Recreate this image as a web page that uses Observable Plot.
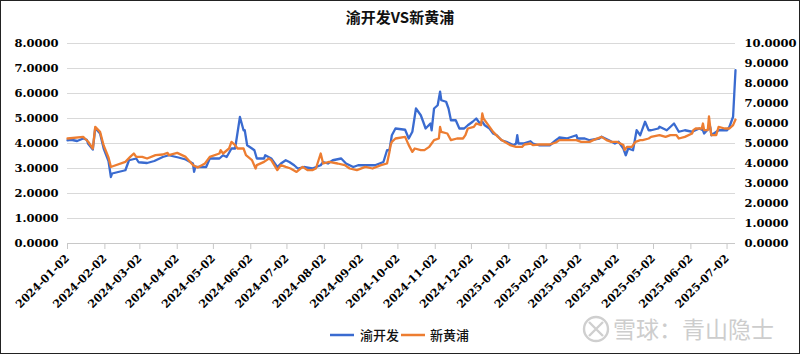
<!DOCTYPE html>
<html><head><meta charset="utf-8">
<script src="https://cdn.jsdelivr.net/npm/d3@7"></script>
<script src="https://cdn.jsdelivr.net/npm/@observablehq/plot@0.6"></script>
<style>
html,body{margin:0;padding:0;background:#fff;}
#wrap{position:relative;width:800px;height:354px;overflow:hidden;background:#fff;}
#frame{position:absolute;left:0;top:0;width:800px;height:354px;box-sizing:border-box;border:1px solid #222;pointer-events:none;}
#title{position:absolute;top:7px;left:0;width:800px;text-align:center;font:bold 15px "Noto Sans CJK SC";color:#111;line-height:20px;}
#chart{position:absolute;left:0;top:35px;}
#legend{position:absolute;left:0;top:325px;width:800px;height:20px;}
#wm{position:absolute;left:0;top:310px;width:800px;height:40px;}
</style>
</head><body>
<div id="wrap">
  <div id="title">渝开发VS新黄浦</div>
  <div id="chart"></div>
  <svg id="legend" width="800" height="20">
    <line x1="330" x2="354" y1="10" y2="10" stroke="#3A6BD0" stroke-width="2.5"/>
    <text x="360" y="15" font-family="Noto Sans CJK SC" font-size="13" font-weight="500" fill="#111">渝开发</text>
    <line x1="401" x2="425" y1="10" y2="10" stroke="#ED7D31" stroke-width="2.5"/>
    <text x="430" y="15" font-family="Noto Sans CJK SC" font-size="13" font-weight="500" fill="#111">新黄浦</text>
  </svg>
  <svg id="wm" width="800" height="40">
    <circle cx="596" cy="19" r="12" fill="none" stroke="#cfcfcf" stroke-width="2.4"/>
    <path d="M589,12 Q596,19 603,26 M603,12 Q598,17 596,19 M589,26 Q593,22 596,19" fill="none" stroke="#cfcfcf" stroke-width="2.4"/>
    <text x="613" y="28" font-family="Noto Sans CJK SC" font-size="23" fill="#cdcdcd">雪球：青山隐士</text>
  </svg>
  <div id="frame"></div>
</div>
<script>
// 渝开发 (left axis)
const blueDates = ["2024-01-02","2024-01-05","2024-01-10","2024-01-15","2024-01-18","2024-01-19","2024-01-23","2024-01-25","2024-01-29","2024-02-01","2024-02-05","2024-02-07","2024-02-08","2024-02-19","2024-02-22","2024-02-28","2024-03-01","2024-03-08","2024-03-14","2024-03-21","2024-03-26","2024-04-03","2024-04-09","2024-04-15","2024-04-16","2024-04-17","2024-04-26","2024-04-29","2024-05-07","2024-05-10","2024-05-13","2024-05-17","2024-05-20","2024-05-24","2024-05-27","2024-05-28","2024-05-30","2024-06-03","2024-06-05","2024-06-07","2024-06-13","2024-06-14","2024-06-19","2024-06-24","2024-06-27","2024-07-01","2024-07-04","2024-07-08","2024-07-11","2024-07-16","2024-07-23","2024-07-30","2024-08-01","2024-08-05","2024-08-09","2024-08-16","2024-08-20","2024-08-26","2024-08-30","2024-09-09","2024-09-13","2024-09-20","2024-09-23","2024-09-25","2024-09-27","2024-09-30","2024-10-08","2024-10-11","2024-10-14","2024-10-17","2024-10-21","2024-10-23","2024-10-25","2024-10-29","2024-10-30","2024-11-01","2024-11-04","2024-11-05","2024-11-06","2024-11-07","2024-11-11","2024-11-13","2024-11-15","2024-11-19","2024-11-22","2024-11-26","2024-11-29","2024-12-03","2024-12-06","2024-12-09","2024-12-11","2024-12-13","2024-12-17","2024-12-20","2024-12-23","2024-12-27","2024-12-31","2025-01-06","2025-01-08","2025-01-09","2025-01-10","2025-01-14","2025-01-20","2025-01-22","2025-01-27","2025-02-05","2025-02-10","2025-02-12","2025-02-13","2025-02-19","2025-02-27","2025-02-28","2025-03-06","2025-03-10","2025-03-18","2025-03-20","2025-03-26","2025-03-31","2025-04-03","2025-04-07","2025-04-09","2025-04-11","2025-04-15","2025-04-18","2025-04-21","2025-04-22","2025-04-25","2025-04-28","2025-04-30","2025-05-06","2025-05-07","2025-05-13","2025-05-19","2025-05-23","2025-05-28","2025-06-03","2025-06-09","2025-06-12","2025-06-13","2025-06-18","2025-06-19","2025-06-25","2025-07-02","2025-07-04","2025-07-07","2025-07-08","2025-07-09"];
const blueValues = [4.13,4.15,4.10,4.20,4.15,4.00,3.76,4.62,4.40,3.80,3.30,2.66,2.80,2.93,3.33,3.40,3.25,3.22,3.30,3.46,3.53,3.44,3.36,3.20,2.87,3.06,3.06,3.40,3.40,3.53,3.46,3.80,3.80,5.06,4.53,4.53,3.93,3.80,3.73,3.40,3.40,3.53,3.40,3.06,3.20,3.33,3.26,3.13,3.00,3.06,3.00,3.13,3.26,3.20,3.33,3.40,3.20,3.06,3.13,3.13,3.13,3.26,3.73,3.73,4.33,4.60,4.55,4.20,4.47,5.40,5.13,4.87,4.60,4.80,4.53,5.40,5.53,5.80,6.07,5.73,5.67,5.40,4.93,4.93,4.60,4.60,4.73,4.87,5.00,4.80,4.87,4.73,4.60,4.40,4.33,4.13,4.07,3.93,4.00,4.33,4.00,4.00,4.09,4.00,3.93,3.93,4.13,4.20,4.24,4.20,4.33,4.20,4.20,4.13,4.20,4.27,4.13,4.00,4.07,3.80,3.53,3.80,3.73,4.53,4.33,4.47,4.87,4.53,4.53,4.60,4.67,4.53,4.80,4.47,4.53,4.47,4.60,4.53,4.40,4.67,4.33,4.53,4.53,4.67,5.07,6.00,6.93];
// 新黄浦 (right axis)
const orangeDates = ["2024-01-02","2024-01-15","2024-01-19","2024-01-23","2024-01-25","2024-01-29","2024-02-01","2024-02-05","2024-02-07","2024-02-08","2024-02-19","2024-02-23","2024-02-26","2024-02-28","2024-03-04","2024-03-08","2024-03-15","2024-03-21","2024-03-25","2024-03-26","2024-04-02","2024-04-09","2024-04-15","2024-04-19","2024-04-25","2024-04-29","2024-05-07","2024-05-08","2024-05-10","2024-05-15","2024-05-17","2024-05-20","2024-05-22","2024-05-27","2024-05-29","2024-06-03","2024-06-06","2024-06-07","2024-06-13","2024-06-17","2024-06-19","2024-06-24","2024-06-27","2024-07-01","2024-07-05","2024-07-10","2024-07-15","2024-07-19","2024-07-23","2024-07-26","2024-07-30","2024-08-01","2024-08-06","2024-08-13","2024-08-19","2024-08-23","2024-08-29","2024-09-05","2024-09-11","2024-09-18","2024-09-23","2024-09-25","2024-09-26","2024-09-27","2024-09-30","2024-10-08","2024-10-11","2024-10-14","2024-10-16","2024-10-21","2024-10-24","2024-10-28","2024-10-30","2024-11-01","2024-11-05","2024-11-06","2024-11-07","2024-11-12","2024-11-15","2024-11-20","2024-11-25","2024-11-27","2024-11-29","2024-12-04","2024-12-06","2024-12-10","2024-12-11","2024-12-12","2024-12-16","2024-12-20","2024-12-24","2024-12-27","2025-01-03","2025-01-08","2025-01-13","2025-01-15","2025-01-20","2025-01-22","2025-01-27","2025-02-05","2025-02-10","2025-02-13","2025-02-21","2025-02-27","2025-03-03","2025-03-10","2025-03-13","2025-03-20","2025-03-24","2025-03-28","2025-04-02","2025-04-07","2025-04-08","2025-04-10","2025-04-14","2025-04-17","2025-04-21","2025-04-23","2025-04-28","2025-04-30","2025-05-07","2025-05-12","2025-05-16","2025-05-21","2025-05-23","2025-05-28","2025-06-03","2025-06-04","2025-06-06","2025-06-11","2025-06-12","2025-06-13","2025-06-16","2025-06-17","2025-06-18","2025-06-19","2025-06-23","2025-06-25","2025-06-30","2025-07-04","2025-07-07","2025-07-09"];
const orangeValues = [5.25,5.33,5.10,4.75,5.83,5.58,4.90,4.30,3.83,3.85,4.08,4.33,4.50,4.33,4.33,4.25,4.42,4.45,4.53,4.42,4.53,4.33,3.92,3.80,4.00,4.33,4.50,4.67,4.50,4.75,5.08,4.92,4.75,4.75,4.42,4.17,3.75,3.92,4.08,4.25,4.17,3.67,3.92,3.83,3.75,3.58,3.83,3.67,3.67,3.75,4.50,4.00,4.08,4.00,3.92,3.75,3.67,3.83,3.75,3.92,4.00,4.58,4.92,5.08,5.25,5.33,4.92,4.58,4.75,4.67,4.67,4.83,5.00,5.17,5.25,5.83,5.58,5.50,5.17,5.25,5.25,5.42,5.75,5.83,6.00,5.92,6.50,6.25,5.92,5.58,5.33,5.17,4.92,4.83,4.83,4.95,5.00,4.92,4.95,4.95,5.05,5.17,5.17,5.17,5.08,5.08,5.17,5.33,5.17,5.08,5.08,4.92,4.67,4.83,4.83,5.08,5.17,5.17,5.25,5.33,5.42,5.33,5.42,5.42,5.25,5.33,5.50,5.67,5.75,5.75,6.00,5.67,5.67,6.35,5.83,5.42,5.42,5.83,5.75,5.75,5.92,6.20];

const leftTicks = [0,1,2,3,4,5,6,7,8];
const rightTicks = [0,1,2,3,4,5,6,7,8,9,10];
const monthTicks = ["2024-01-02","2024-02-02","2024-03-02","2024-04-02","2024-05-02","2024-06-02","2024-07-02","2024-08-02","2024-09-02","2024-10-02","2024-11-02","2024-12-02","2025-01-02","2025-02-02","2025-03-02","2025-04-02","2025-05-02","2025-06-02","2025-07-02"];
const xStart = "2024-01-02", xEnd = "2025-07-09";

const ratio = leftTicks[leftTicks.length-1] / rightTicks[rightTicks.length-1]; // right -> left scale
const blue = blueDates.map((d,i)=>({date:new Date(d), v:blueValues[i]}));
const orange = orangeDates.map((d,i)=>({date:new Date(d), v:orangeValues[i]*ratio}));
const fmt4 = d=>d.toFixed(4);

const chart = Plot.plot({
  width: 800, height: 285,
  marginLeft: 67, marginRight: 65, marginTop: 8, marginBottom: 77,
  style: {fontFamily: "DejaVu Serif", fontWeight: "bold", fontSize: "11px", color: "#000", background: "transparent", overflow: "visible"},
  x: {type: "utc", domain: [new Date(xStart), new Date(xEnd)]},
  y: {domain: [0, 8]},
  marks: [
    Plot.gridY(leftTicks.filter(d=>d>0), {stroke: "#d9d9d9", strokeOpacity: 1, strokeWidth: 1}),
    Plot.ruleY([0], {stroke: "#c8c8c8", strokeWidth: 1}),
    Plot.axisY(leftTicks, {anchor: "left", tickSize: 0, tickPadding: 9, tickFormat: fmt4, fontSize: 11.5, label: null}),
    Plot.axisY(rightTicks.map(d=>d*ratio), {anchor: "right", tickSize: 0, tickPadding: 9, tickFormat: d=>fmt4(d/ratio), fontSize: 11.5, label: null}),
    Plot.axisX(monthTicks.map(d=>new Date(d)), {anchor: "bottom", tickRotate: -45, tickSize: 6, tickPadding: 7, stroke: "#c8c8c8", fill: "#000", fontSize: 11, tickFormat: d3.utcFormat("%Y-%m-%d"), label: null}),
    Plot.line(blue, {x: "date", y: "v", stroke: "#3A6BD0", strokeWidth: 2.3}),
    Plot.line(orange, {x: "date", y: "v", stroke: "#ED7D31", strokeWidth: 2.3})
  ]
});
document.getElementById("chart").appendChild(chart);
</script>
</body></html>
